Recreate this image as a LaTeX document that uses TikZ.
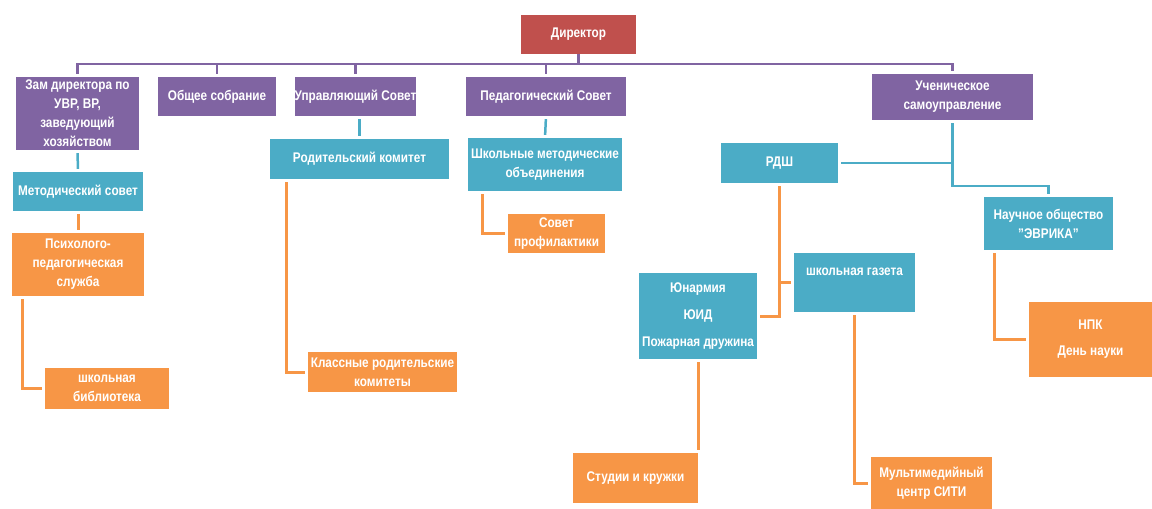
\documentclass[tikz,border=0pt]{standalone}
\usepackage{fontspec}
\setmainfont{Liberation Sans}[FakeStretch=0.84]
\definecolor{orgred}{HTML}{C0504D}
\definecolor{orgviolet}{HTML}{8064A2}
\definecolor{orgteal}{HTML}{4BACC6}
\definecolor{orgorange}{HTML}{F79646}
\begin{document}
\begin{tikzpicture}[x=1pt,y=-1pt,
	box/.style={text=white,align=center,inner sep=0pt,font=\bfseries\fontsize{14}{19}\selectfont},
	rbox/.style={box,fill=orgred}, pbox/.style={box,fill=orgviolet},
	tbox/.style={box,fill=orgteal}, obox/.style={box,fill=orgorange},
	wh/.style 2 args={minimum width=#1pt,minimum height=#2pt},
	pline/.style={draw=orgviolet,line width=2.5pt},
	tline/.style={draw=orgteal,line width=2.5pt,shorten <=3pt,shorten >=3pt},
	oline/.style={draw=orgorange,line width=3pt,shorten <=3pt,shorten >=3pt}]
	\useasboundingbox (0,0) rectangle (1152,509);
	
	\node[rbox,wh={115}{39}] (dir) at (578.5,34.5) {Директор};
	
	\node[pbox,wh={123}{73}] (zam) at (77.5,113.5) {Зам директора по\\УВР, ВР,\\заведующий\\хозяйством};
	\node[pbox,wh={118}{39}] (obsh) at (217,96.5) {Общее собрание};
	\node[pbox,wh={119}{39}] (upr) at (355.5,96.5) {Управляющий Совет};
	\node[pbox,wh={160}{39}] (ped) at (546,96.5) {Педагогический Совет};
	\node[pbox,wh={161}{46}] (uch) at (952.5,97) {Ученическое\\самоуправление};
	
	\node[tbox,wh={130}{39}] (met) at (78,191.5) {Методический совет};
	\node[tbox,wh={179}{40}] (rod) at (359.5,159) {Родительский комитет};
	\node[tbox,wh={154}{53}] (shmo) at (545,164.5) {Школьные методические\\объединения};
	\node[tbox,wh={117}{40}] (rdsh) at (779.5,163) {РДШ};
	\node[tbox,wh={129}{53}] (nauch) at (1048.5,223.5) {Научное общество\\"ЭВРИКА"};
	\node[tbox,minimum width=121pt,text height=22pt,text depth=37pt] (gaz) at (854.5,282.5) {школьная газета};
	\node[tbox,wh={118}{86},font=\bfseries\fontsize{14}{27}\selectfont] (yun) at (698,316) {Юнармия\\ЮИД\\Пожарная дружина};
	
	\node[obox,wh={132}{63}] (psy) at (78,264.5) {Психолого-\\педагогическая\\служба};
	\node[obox,wh={124}{41}] (bib) at (107,388.5) {школьная\\библиотека};
	\node[obox,wh={149}{40}] (klass) at (382.5,372) {Классные родительские\\комитеты};
	\node[obox,wh={97}{39}] (prof) at (556.5,233.5) {Совет\\профилактики};
	\node[obox,wh={125}{50}] (stud) at (635.5,478) {Студии и кружки};
	\node[obox,wh={121}{52}] (mult) at (931.5,483) {Мультимедийный\\центр СИТИ};
	\node[obox,wh={123}{75},font=\bfseries\fontsize{14}{26}\selectfont] (npk) at (1090.5,339.5) {НПК\\День науки};
	
	% bus from the director
	\draw[pline] (dir.south) -- (dir.south |- 0,64);
	\draw[pline,shorten <=3pt,shorten >=3pt] (zam.north) |- (uch.north |- 0,64) -- (uch.north);
	\foreach \n in {obsh,upr,ped} \draw[pline,shorten >=3pt] (\n.north |- 0,64) -- (\n.north);
	
	\draw[tline] (zam.south) -- (met.north);
	\draw[tline] (rod.north |- upr.south) -- (rod.north);
	\draw[tline] (ped.south) -- (shmo.north);
	\draw[tline] (uch.south) |- (rdsh.east);
	\draw[tline] (uch.south) -- (uch.south |- 0,186) -| (nauch.north);
	
	\draw[oline] (met.south) -- (psy.north);
	\draw[oline] ([xshift=11pt]psy.south west) |- (bib.west);
	\draw[oline] ([xshift=17pt]rod.south west) |- (klass.west);
	\draw[oline] ([xshift=15pt]shmo.south west) |- (prof.west);
	\draw[oline] (rdsh.south) |- (gaz.west);
	\draw[oline] (rdsh.south) |- (yun.east);
	\draw[oline] (yun.south) -- (yun.south |- stud.north);
	\draw[oline] (gaz.south) |- (mult.west);
	\draw[oline] ([xshift=11pt]nauch.south west) |- (npk.west);
\end{tikzpicture}
\end{document}
